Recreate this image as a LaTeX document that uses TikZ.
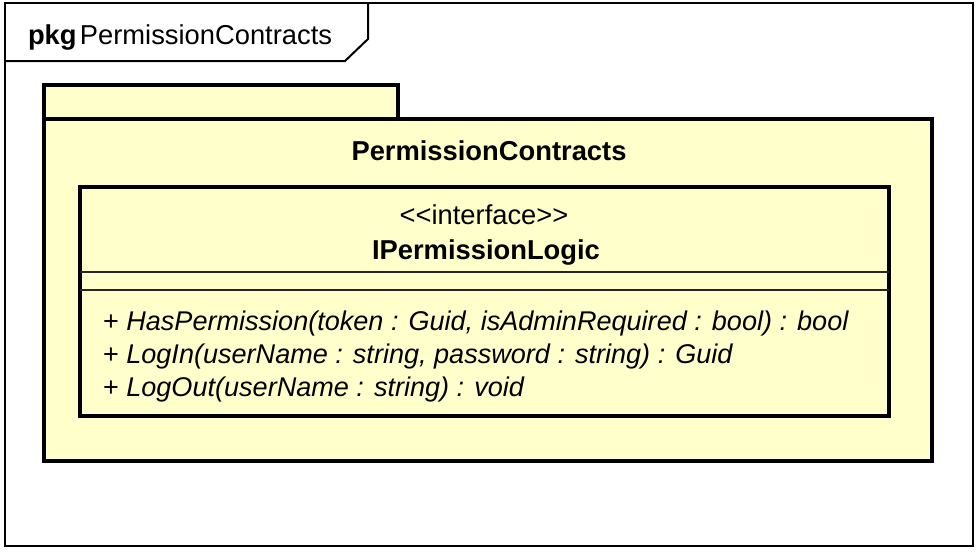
\documentclass[tikz,border=0pt]{standalone}
\usepackage{fontspec}
\setmainfont{Liberation Sans}
\definecolor{umlfill}{RGB}{255,255,204}
\begin{document}
\begin{tikzpicture}[x=0.75pt,y=-0.75pt,
  txt/.style={inner sep=0pt,outer sep=0pt,font=\fontsize{20.5}{24}\selectfont},
  optxt/.style={inner sep=0pt,outer sep=0pt,font=\fontsize{20.3}{24}\selectfont},
  thin line/.style={draw=black,line width=1.5pt},
  thick line/.style={draw=black,line width=3pt,fill=umlfill},
  comp line/.style={draw=black!85,line width=1.1pt}]
\useasboundingbox (0,0) rectangle (980,553);
\fill[white] (0,0) rectangle (980,553);
% frame
\coordinate (frameNW) at (5,3);
\coordinate (frameSE) at (973,546);
\draw[thin line] (frameNW) rectangle (frameSE);
\draw[thin line] (5,61) -- (345,61) -- (368,39) -- (368,3);
\node[txt,anchor=base west] (pkgkw) at (28,44) {\textbf{pkg}};
\node[txt,anchor=base west] (pkgname) at ([xshift=2.5pt]pkgkw.base east) {PermissionContracts};
% package
\coordinate (tabNW) at (43.5,85);
\coordinate (tabSE) at (397.5,118.5);
\coordinate (bodyNW) at (43.5,118.5);
\coordinate (bodySE) at (932,461);
\draw[thick line] (tabNW) rectangle (tabSE);
\draw[thick line] (bodyNW) rectangle (bodySE);
\node[txt,anchor=base] (pkgtitle) at (489,160) {\textbf{PermissionContracts}};
% class
\coordinate (clsNW) at (79.5,186.5);
\coordinate (clsSE) at (888.5,415.5);
\draw[thick line] (clsNW) rectangle (clsSE);
\coordinate (c1W) at (79.5,272);
\coordinate (c1E) at (888.5,272);
\coordinate (c2W) at (79.5,290);
\coordinate (c2E) at (888.5,290);
\draw[comp line] (c1W) -- (c1E);
\draw[comp line] (c2W) -- (c2E);
\node[txt,anchor=base] (stereo) at (484,224) {<{}<interface>{}>};
\node[txt,anchor=base] (clsname) at (486,259) {\textbf{IPermissionLogic}};
\node[optxt,anchor=base west] (m1) at (103,330) {+ \textit{HasPermission(token : Guid, isAdminRequired : bool) : bool}};
\node[optxt,anchor=base west] (m2) at (103,363) {+ \textit{LogIn(userName : string, password : string) : Guid}};
\node[optxt,anchor=base west] (m3) at (103,396) {+ \textit{LogOut(userName : string) : void}};
\end{tikzpicture}
\end{document}
